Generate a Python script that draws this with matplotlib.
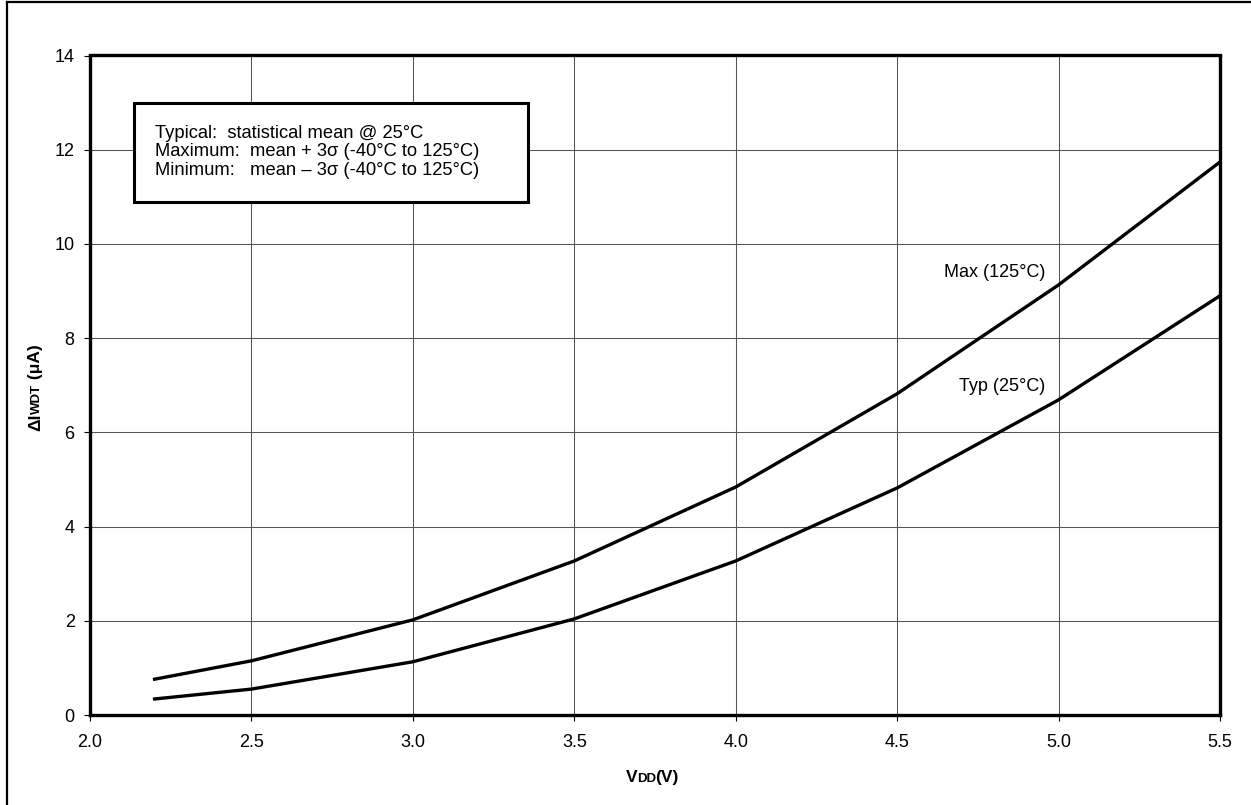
import matplotlib
matplotlib.use("Agg")
import matplotlib.pyplot as plt
from matplotlib.patches import Rectangle
from matplotlib.lines import Line2D

plt.rcParams['font.family'] = ['Liberation Sans', 'DejaVu Sans']

vdd = [2.2, 2.5, 3.0, 3.5, 4.0, 4.5, 5.0, 5.5]
max_125 = [0.76, 1.15, 2.02, 3.27, 4.84, 6.82, 9.13, 11.74]
typ_25 = [0.34, 0.55, 1.13, 2.04, 3.27, 4.82, 6.69, 8.90]
x_ticks = [2.0, 2.5, 3.0, 3.5, 4.0, 4.5, 5.0, 5.5]
y_ticks = [0, 2, 4, 6, 8, 10, 12, 14]

W, H = 1251, 805
fig = plt.figure(figsize=(W / 100, H / 100), dpi=100)
ax = fig.add_axes([90 / W, 1 - 715 / H, (1220 - 90) / W, (715 - 55.5) / H])

ax.plot(vdd, max_125, color='black', lw=2.4, solid_joinstyle='round')
ax.plot(vdd, typ_25, color='black', lw=2.4, solid_joinstyle='round')

ax.set_xlim(2.0, 5.5)
ax.set_ylim(0, 14)
ax.set_xticks(x_ticks)
ax.set_xticklabels([f"{v:.1f}" for v in x_ticks])
ax.set_yticks(y_ticks)
ax.grid(True, color='#555555', lw=0.75)
for s in ax.spines.values():
    s.set_linewidth(2.4)
ax.tick_params(axis='both', direction='out', length=4.5, width=0.8, labelsize=13)
ax.tick_params(axis='x', pad=9.5)
ax.tick_params(axis='y', pad=6.5)

# x label: V + small-caps DD + (V)
BIG, SMALL = 12.5, 9.5
t1 = fig.text(626 / W, 1 - 782 / H, 'V', ha='left', va='baseline',
              fontsize=BIG, fontweight='bold')
t2 = ax.annotate('DD', xy=(1, 0), xycoords=t1, ha='left', va='bottom',
                 fontsize=SMALL, fontweight='bold', annotation_clip=False)
t3 = ax.annotate('(V)', xy=(1, 0), xycoords=t2, xytext=(-1, 0),
                 textcoords='offset points', ha='left', va='bottom',
                 fontsize=BIG, fontweight='bold', annotation_clip=False)

# y label: ΔI + small-caps WDT + (μA), rotated
y1 = fig.text(43 / W, 1 - 431 / H, 'ΔI', ha='right', va='bottom', rotation=90,
              fontsize=BIG, fontweight='bold')
y2 = ax.annotate('WDT', xy=(1, 1), xycoords=y1, ha='right', va='bottom',
                 rotation=90, fontsize=SMALL, fontweight='bold', annotation_clip=False)
y3 = ax.annotate(' (μA)', xy=(1, 1), xycoords=y2, ha='right', va='bottom',
                 rotation=90, fontsize=BIG, fontweight='bold', annotation_clip=False)

ax.text(4.96, 9.4, 'Max (125°C)', ha='right', va='center', fontsize=13)
ax.text(4.96, 6.98, 'Typ (25°C)', ha='right', va='center', fontsize=13)

legend_txt = ("Typical:  statistical mean @ 25°C\n"
              "Maximum:  mean + 3σ (-40°C to 125°C)\n"
              "Minimum:   mean – 3σ (-40°C to 125°C)")
fig.text(155 / W, 1 - 152 / H, legend_txt, ha='left', va='center', fontsize=13.2,
         linespacing=1.12, zorder=5)
fig.patches.append(Rectangle((134 / W, 1 - 202 / H), (528 - 134) / W, (202 - 103) / H,
                             transform=fig.transFigure, fill=True, facecolor='white',
                             edgecolor='black', lw=2.2, zorder=4))

# outer frame (top and left edges)
fig.add_artist(Line2D([7 / W, 1.0], [1 - 2 / H, 1 - 2 / H], transform=fig.transFigure,
                      color='black', lw=1.6))
fig.add_artist(Line2D([7 / W, 7 / W], [0, 1 - 2 / H], transform=fig.transFigure,
                      color='black', lw=1.6))

fig.savefig('out.png', dpi=100)
